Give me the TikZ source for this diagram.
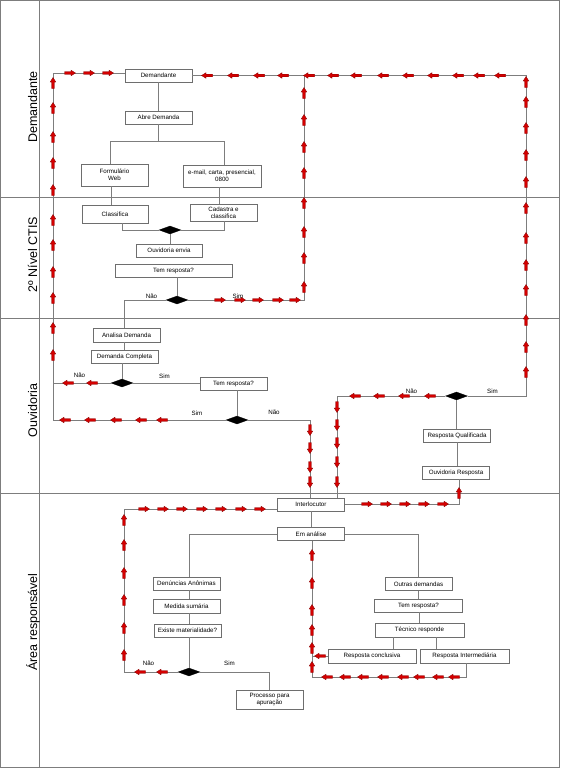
\documentclass[tikz,border=0pt]{standalone}
\usepackage{fontspec}
\setmainfont{Liberation Sans}
\usetikzlibrary{shapes.geometric}
\definecolor{lg}{RGB}{125,125,125}
\definecolor{bx}{RGB}{110,110,110}
\definecolor{arrred}{RGB}{212,0,0}
\definecolor{arrdark}{RGB}{130,0,0}
\begin{document}
\begin{tikzpicture}[x=1pt,y=1pt,
  box/.style={draw=bx, fill=white, line width=0.6pt, font=\fontsize{6.2}{7.3}\selectfont, align=center, inner sep=0pt},
  dia/.style={diamond, fill=black, draw=black, line width=0.3pt, inner sep=0pt, minimum width=22pt, minimum height=8pt},
  conn/.style={draw=lg, line width=0.6pt},
  laneline/.style={draw=lg, line width=0.7pt},
  lbl/.style={font=\fontsize{6.2}{7}\selectfont, inner sep=0pt},
  lane/.style={font=\fontsize{12.5}{14}\selectfont, rotate=90, inner sep=0pt, anchor=base},
  redarr/.pic={\filldraw[fill=arrred, draw=arrdark, line width=0.3pt]
     (-5.5,-1.3) -- (1,-1.3) -- (1,-2.8) -- (5.5,0) -- (1,2.8) -- (1,1.3) -- (-5.5,1.3) -- cycle;}
]
\useasboundingbox (0,0) rectangle (560,-768);
% lanes
\draw[laneline] (0.5,-0.8) rectangle (559.5,-767.2);
\draw[laneline] (39,-0.8) -- (39,-767.2);
\draw[laneline] (0.5,-197) -- (559.5,-197);
\draw[laneline] (0.5,-318) -- (559.5,-318);
\draw[laneline] (0.5,-493) -- (559.5,-493);
\node[lane] (lDem) at (37,-107) {Demandante};
\node[lane] (lCtis) at (37,-254.5) {2º Nível CTIS};
\node[lane] (lOuv) at (37,-410.5) {Ouvidoria};
\node[lane] (lArea) at (37,-622) {Área responsável};

% nodes
\node[box, minimum width=67pt, minimum height=13pt] (dem) at (158.5,-75.5) {Demandante};
\node[box, minimum width=67pt, minimum height=13pt] (abre) at (158.5,-117.5) {Abre Demanda};
\node[box, minimum width=67pt, minimum height=22pt] (form) at (114.5,-175) {Formulário\\Web};
\node[box, minimum width=78pt, minimum height=22pt] (email) at (222,-176) {e-mail, carta, presencial,\\0800};
\node[box, minimum width=66pt, minimum height=18pt] (class) at (115,-214) {Classifica};
\node[box, minimum width=67pt, minimum height=17pt] (cad) at (223.5,-212.5) {Cadastra e\\classifica};
\node[dia] (d1) at (170,-230) {};
\node[box, minimum width=66pt, minimum height=13pt] (envia) at (169,-250.5) {Ouvidoria envia};
\node[box, minimum width=117pt, minimum height=13pt] (tem1) at (173.5,-270.5) {Tem resposta?};
\node[dia] (d2) at (177,-300) {};
\node[box, minimum width=67pt, minimum height=14pt] (anal) at (126.5,-335) {Analisa Demanda};
\node[box, minimum width=67pt, minimum height=13pt] (comp) at (124.5,-356.5) {Demanda Completa};
\node[dia] (d3) at (122,-383) {};
\node[box, minimum width=67pt, minimum height=13pt] (tem2) at (233.5,-383.5) {Tem resposta?};
\node[dia] (d4) at (237,-420) {};
\node[dia] (d5) at (456.5,-396) {};
\node[box, minimum width=67pt, minimum height=13pt] (qual) at (457,-435.5) {Resposta Qualificada};
\node[box, minimum width=67pt, minimum height=13pt] (ouvr) at (456,-472.5) {Ouvidoria Resposta};
\node[box, minimum width=67pt, minimum height=13pt] (inter) at (311,-504.5) {Interlocutor};
\node[box, minimum width=67pt, minimum height=13pt] (anali) at (311,-534) {Em análise};
\node[box, minimum width=67pt, minimum height=13pt] (den) at (186.5,-583.5) {Denúncias Anônimas};
\node[box, minimum width=67pt, minimum height=14pt] (med) at (186.5,-606) {Medida sumária};
\node[box, minimum width=67pt, minimum height=13pt] (exis) at (187.5,-630.5) {Existe materialidade?};
\node[dia] (d6) at (189,-672) {};
\node[box, minimum width=67pt, minimum height=19pt] (proc) at (269.5,-699.5) {Processo para\\apuração};
\node[box, minimum width=67pt, minimum height=12.5pt] (outr) at (418.5,-584) {Outras demandas};
\node[box, minimum width=88pt, minimum height=13pt] (tem3) at (418.5,-605.5) {Tem resposta?};
\node[box, minimum width=89pt, minimum height=14pt] (tec) at (419.5,-630) {Técnico responde};
\node[box, minimum width=88pt, minimum height=14pt] (conc) at (372,-656) {Resposta conclusiva};
\node[box, minimum width=89pt, minimum height=14pt] (intm) at (464.5,-656) {Resposta Intermediária};

% plain connectors
\draw[conn] (dem) -- (abre);
\draw[conn] (abre.south) -- (abre.south |- 0,-141.5);
\draw[conn] (110,0 |- form.north) |- (224,-141.5) -- (224,0 |- email.north);
\draw[conn] (111,0 |- form.south) -- (111,0 |- class.north);
\draw[conn] (219,0 |- email.south) -- (219,0 |- cad.north);
\draw[conn] (122,0 |- class.south) |- (d1.west);
\draw[conn] (224,0 |- cad.south) |- (d1.east);
\draw[conn] (d1.south) -- (d1.south |- envia.north);
\draw[conn] (d2.north |- tem1.south) -- (d2.north);
\draw[conn] (d2.west) -| (124,0 |- anal.north);
\draw[conn] (124,0 |- anal.south) -- (124,0 |- comp.north);
\draw[conn] (d3.north |- comp.south) -- (d3.north);
\draw[conn] (d3.east) -- (tem2.west |- d3.east);
\draw[conn] (d4.north |- tem2.south) -- (d4.north);
\draw[conn] (d5.south) -- (d5.south |- qual.north);
\draw[conn] (qual.south) -- (qual.south |- ouvr.north);
\draw[conn] (inter.south) -- (anali.north);
\draw[conn] (anali.west) -| (189,0 |- den.north);
\draw[conn] (anali.east) -| (outr.north);
\draw[conn] (189,0 |- den.south) -- (189,0 |- med.north);
\draw[conn] (189,0 |- med.south) -- (189,0 |- exis.north);
\draw[conn] (189,0 |- exis.south) -- (d6.north);
\draw[conn] (d6.east) -| (proc.north);
\draw[conn] (418.5,0 |- outr.south) -- (418.5,0 |- tem3.north);
\draw[conn] (419,0 |- tem3.south) -- (419,0 |- tec.north);
\draw[conn] (393,0 |- tec.south) -- (393,0 |- conc.north);
\draw[conn] (436,0 |- tec.south) -- (436,0 |- intm.north);

% flow connectors (with red arrows)
\draw[conn] (d4.west) -- (53,0 |- d4.west) -- (53,-73) -- (dem.west |- 0,-73);
\draw[conn] (d3.west) -- (53,0 |- d3.west);
\draw[conn] (d2.east) -| (304,0 |- dem.east);
\draw[conn] (d5.east) -| (526,0 |- dem.east) -- (dem.east);
\draw[conn] (d4.east) -| (310,0 |- inter.north);
\draw[conn] (d5.west) -| (337,0 |- inter.north);
\draw[conn] (inter.east) -| (459,0 |- ouvr.south);
\draw[conn] (d6.west) -| (124,-509) -- (inter.west |- 0,-509);
\draw[conn] (466,0 |- intm.south) |- (312,-677) -- (312,0 |- anali.south);
\draw[conn] (conc.west) -- (312,0 |- conc.west);

% red arrows
\foreach \x/\y in {70/73, 89/73, 108/73, 220/300, 240/300, 258/300, 278/300, 295/300,
  367/504, 386/504, 405/504, 424/504, 443/504,
  144/509, 163/509, 182/509, 202/509, 221/509, 241/509, 260/509}
  \pic at (\x,-\y) {redarr};
\foreach \x/\y in {207/75.5, 233/75.5, 259/75.5, 283/75.5, 309/75.5, 333/75.5, 356/75.5, 383/75.5, 408/75.5, 433/75.5, 458/75.5, 479/75.5, 500/75.5,
  68/383, 92/383, 65/420, 90/420, 116/420, 141/420, 162/420,
  355/396, 379/396, 404/396, 430/396, 140/672, 162/672,
  327/677, 345/677, 363/677, 383/677, 403/677, 419/677, 438/677, 454/677, 320/656}
  \pic[rotate=180] at (\x,-\y) {redarr};
\foreach \x/\y in {53/83, 53/108, 53/137, 53/163, 53/190, 53/220, 53/245, 53/272, 53/298, 53/328, 53/355,
  304/93, 304/120, 304/147, 304/173, 304/203, 304/232, 304/258, 304/287,
  526/82, 526/102, 526/128, 526/155, 526/182, 526/208, 526/238, 526/265, 526/290, 526/320, 526/347, 526/372,
  459/493, 124/520, 124/545, 124/573, 124/600, 124/628, 124/655,
  312/555, 312/583, 312/610, 312/630, 312/648, 312/667}
  \pic[rotate=90] at (\x,-\y) {redarr};
\foreach \x/\y in {310/430, 310/448, 310/467, 310/482, 337/407, 337/425, 337/443, 337/462, 337/482}
  \pic[rotate=270] at (\x,-\y) {redarr};

% labels
\node[lbl] (nao1) at (151.5,-296) {Não};
\node[lbl] (sim1) at (238,-296) {Sim};
\node[lbl] (nao2) at (79.5,-375) {Não};
\node[lbl] (sim2) at (164.5,-376) {Sim};
\node[lbl] (sim3) at (197,-413.5) {Sim};
\node[lbl] (nao3) at (274,-412) {Não};
\node[lbl] (nao4) at (411.5,-391) {Não};
\node[lbl] (sim4) at (492.5,-391.5) {Sim};
\node[lbl] (nao5) at (148.5,-663) {Não};
\node[lbl] (sim5) at (229.5,-663.5) {Sim};
\end{tikzpicture}
\end{document}
